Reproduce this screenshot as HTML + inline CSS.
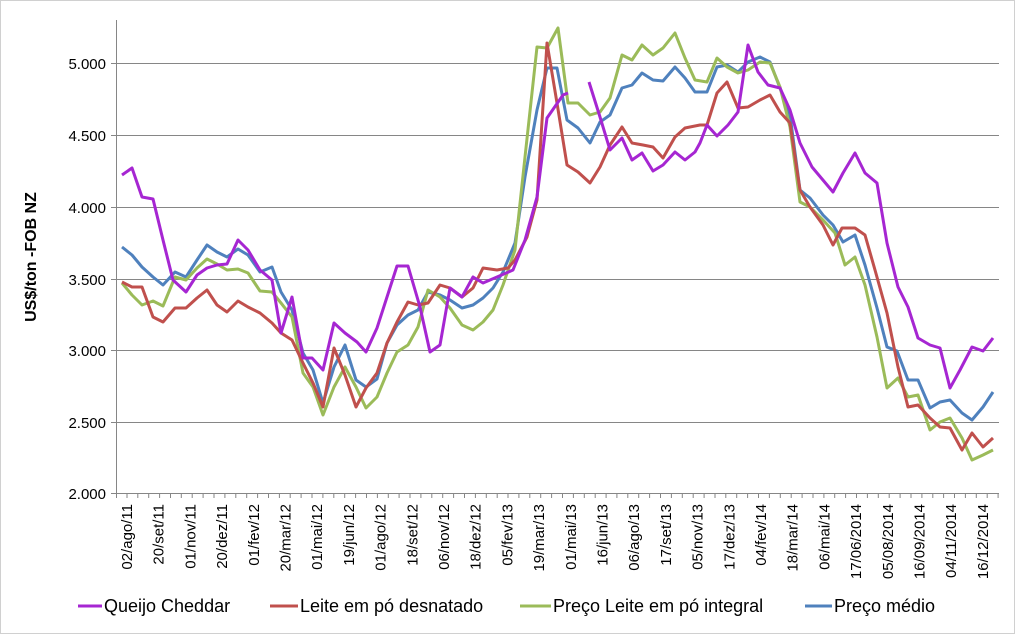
<!DOCTYPE html>
<html><head><meta charset="utf-8"><style>
body{margin:0;background:#fff;}
svg{display:block;font-family:"Liberation Sans",sans-serif;}
</style></head><body>
<svg width="1015" height="634" viewBox="0 0 1015 634" xmlns="http://www.w3.org/2000/svg">
<rect x="0.5" y="0.5" width="1014" height="633" fill="#fff" stroke="#d0d0d0"/>
<g stroke="#868686" stroke-width="1">
<line x1="116" y1="63.5" x2="999" y2="63.5"/>
<line x1="116" y1="135.5" x2="999" y2="135.5"/>
<line x1="116" y1="207.5" x2="999" y2="207.5"/>
<line x1="116" y1="279.5" x2="999" y2="279.5"/>
<line x1="116" y1="350.5" x2="999" y2="350.5"/>
<line x1="116" y1="422.5" x2="999" y2="422.5"/>
<line x1="116" y1="493.5" x2="999" y2="493.5"/>
<line x1="116.5" y1="20" x2="116.5" y2="493"/>
<path d="M111 63.5h5M111 135.5h5M111 207.5h5M111 279.5h5M111 350.5h5M111 422.5h5M111 493.5h5"/>
<path d="M116.5 493v5M127 493v5M137.8 493v5M148.7 493v5M159.6 493v5M170.5 493v5M181.3 493v5M192.2 493v5M203.1 493v5M214 493v5M224.9 493v5M235.8 493v5M246.7 493v5M257.6 493v5M268.5 493v5M279.4 493v5M290.2 493v5M301.1 493v5M312 493v5M322.9 493v5M333.8 493v5M344.7 493v5M355.6 493v5M366.5 493v5M377.4 493v5M388.3 493v5M399.1 493v5M410 493v5M420.9 493v5M431.8 493v5M442.7 493v5M453.6 493v5M464.5 493v5M475.4 493v5M486.3 493v5M497.2 493v5M508 493v5M518.9 493v5M529.8 493v5M540.7 493v5M551.6 493v5M562.5 493v5M573.4 493v5M584.3 493v5M595.2 493v5M606.1 493v5M616.9 493v5M627.8 493v5M638.7 493v5M649.6 493v5M660.5 493v5M671.4 493v5M682.3 493v5M693.2 493v5M704.1 493v5M715 493v5M725.8 493v5M736.7 493v5M747.6 493v5M758.5 493v5M769.4 493v5M780.3 493v5M791.2 493v5M802.1 493v5M813 493v5M823.9 493v5M834.7 493v5M845.6 493v5M856.5 493v5M867.4 493v5M878.3 493v5M889.2 493v5M900.1 493v5M911 493v5M921.9 493v5M932.8 493v5M943.6 493v5M954.5 493v5M965.4 493v5M976.3 493v5M987.2 493v5M998.1 493v5"/>
</g>
<g font-size="15" fill="#000" text-anchor="end">
<text x="106" y="69">5.000</text><text x="106" y="141">4.500</text><text x="106" y="213">4.000</text>
<text x="106" y="285">3.500</text><text x="106" y="356">3.000</text><text x="106" y="428">2.500</text><text x="106" y="499">2.000</text>
</g>
<text transform="translate(36,257) rotate(-90)" text-anchor="middle" font-size="16" font-weight="bold">US$/ton -FOB NZ</text>
<g font-size="15" fill="#000" text-anchor="end">
<text transform="translate(132,504) rotate(-90)">02/ago/11</text>
<text transform="translate(163.7,504) rotate(-90)">20/set/11</text>
<text transform="translate(195.4,504) rotate(-90)">01/nov/11</text>
<text transform="translate(227.1,504) rotate(-90)">20/dez/11</text>
<text transform="translate(258.8,504) rotate(-90)">01/fev/12</text>
<text transform="translate(290.5,504) rotate(-90)">20/mar/12</text>
<text transform="translate(322.2,504) rotate(-90)">01/mai/12</text>
<text transform="translate(353.9,504) rotate(-90)">19/jun/12</text>
<text transform="translate(385.6,504) rotate(-90)">01/ago/12</text>
<text transform="translate(417.3,504) rotate(-90)">18/set/12</text>
<text transform="translate(449,504) rotate(-90)">06/nov/12</text>
<text transform="translate(480.7,504) rotate(-90)">18/dez/12</text>
<text transform="translate(512.4,504) rotate(-90)">05/fev/13</text>
<text transform="translate(544.1,504) rotate(-90)">19/mar/13</text>
<text transform="translate(575.8,504) rotate(-90)">01/mai/13</text>
<text transform="translate(607.5,504) rotate(-90)">16/jun/13</text>
<text transform="translate(639.2,504) rotate(-90)">06/ago/13</text>
<text transform="translate(670.9,504) rotate(-90)">17/set/13</text>
<text transform="translate(702.6,504) rotate(-90)">05/nov/13</text>
<text transform="translate(734.3,504) rotate(-90)">17/dez/13</text>
<text transform="translate(766,504) rotate(-90)">04/fev/14</text>
<text transform="translate(797.7,504) rotate(-90)">18/mar/14</text>
<text transform="translate(829.4,504) rotate(-90)">06/mai/14</text>
<text transform="translate(861.1,504) rotate(-90)">17/06/2014</text>
<text transform="translate(892.8,504) rotate(-90)">05/08/2014</text>
<text transform="translate(924.5,504) rotate(-90)">16/09/2014</text>
<text transform="translate(956.2,504) rotate(-90)">04/11/2014</text>
<text transform="translate(987.9,504) rotate(-90)">16/12/2014</text>
</g>
<g fill="none" stroke-width="3" stroke-linejoin="round">
<polyline stroke="#4f81bd" points="122,247 132,255 142,267 153,277 163,285 175,272 186,277 197,260 207,245 217,252 227,257 238,249 248,255 260,272 272,267 281,292 292,310 303,353 313,370 323,403 334,367 345,345 356,380 366,387 377,379 387,343 397,325 408,315 418,310 428,292 440,295 450,300 462,308 473,305 483,298 493,288 503,272 515,243 525,177 537,110 547,68 557,68 567,120 578,128 590,143 600,122 610,115 622,88 632,85 642,73 653,80 663,81 675,67 685,78 695,92 707,92 717,67 727,65 738,72 748,62 760,57 770,62 780,88 790,115 800,190 810,198 823,215 833,225 843,242 855,235 865,265 877,308 887,347 897,351 908,380 918,380 930,408 940,402 950,400 962,413 972,420 983,407 993,392"/>
<polyline stroke="#9bbb59" points="122,283 132,295 142,305 153,301 163,306 175,277 186,280 197,268 207,259 217,264 227,270 238,269 248,273 260,291 272,292 281,303 292,317 303,373 313,387 323,415 334,387 345,367 356,387 366,408 377,397 387,373 397,352 408,345 418,327 428,290 440,297 450,308 462,325 473,330 483,322 493,310 503,285 515,250 525,157 537,47 547,48 558,28 568,103 578,103 590,115 600,112 610,98 622,55 632,60 642,45 653,55 663,48 675,33 685,58 695,80 707,82 717,58 727,67 738,73 748,70 760,62 770,63 780,87 790,127 800,202 810,207 823,220 835,233 845,265 855,257 865,285 877,337 887,388 898,378 908,397 918,395 930,430 940,422 950,418 962,438 972,460 983,455 993,450"/>
<polyline stroke="#c0504d" points="122,282 132,287 142,287 153,317 163,322 175,308 186,308 197,298 207,290 217,305 227,312 238,301 248,307 260,313 272,323 281,333 292,340 303,363 313,383 323,407 334,348 345,375 356,407 366,388 377,373 387,343 397,322 408,302 418,305 428,303 440,285 450,288 462,297 473,288 483,268 497,270 508,268 515,260 527,237 537,200 547,43 557,103 567,165 578,172 590,183 600,167 610,145 622,127 632,143 643,145 653,147 663,158 675,137 685,128 700,125 707,125 717,93 727,82 738,108 748,107 760,100 770,95 780,112 790,123 800,190 810,207 823,225 833,245 842,228 855,228 865,235 875,270 887,313 898,367 908,407 918,405 930,418 940,427 950,428 962,450 972,433 983,447 993,438"/>
<polyline stroke="#a626d2" points="122,175 132,168 142,197 153,199 163,240 173,280 186,292 197,275 207,268 217,265 227,264 238,240 248,250 260,270 272,280 281,333 292,297 303,358 312,358 323,370 334,323 345,333 357,342 366,352 377,328 387,297 397,266 408,266 420,307 430,352 440,345 450,288 462,297 473,277 483,283 497,277 513,270 525,240 537,197 547,118 563,95 568,93"/>
<polyline stroke="#a626d2" points="589,82 600,117 610,150 622,138 632,160 642,153 653,171 663,165 675,152 685,160 695,152 700,143 707,125 717,136 728,125 738,112 748,45 758,72 768,85 780,88 790,110 800,143 812,167 833,192 843,173 855,153 865,173 877,183 887,243 898,287 908,307 918,338 930,345 940,348 950,388 960,370 972,347 983,351 993,338"/>
</g>
<g stroke-width="3">
<line x1="78" y1="606" x2="102" y2="606" stroke="#a626d2"/>
<line x1="270" y1="606" x2="298" y2="606" stroke="#c0504d"/>
<line x1="520" y1="606" x2="551" y2="606" stroke="#9bbb59"/>
<line x1="805" y1="606" x2="832" y2="606" stroke="#4f81bd"/>
</g>
<g font-size="18" fill="#000">
<text x="104" y="612">Queijo Cheddar</text>
<text x="300" y="612">Leite em pó desnatado</text>
<text x="553" y="612">Preço Leite em pó integral</text>
<text x="834" y="612">Preço médio</text>
</g>
</svg>
</body></html>
